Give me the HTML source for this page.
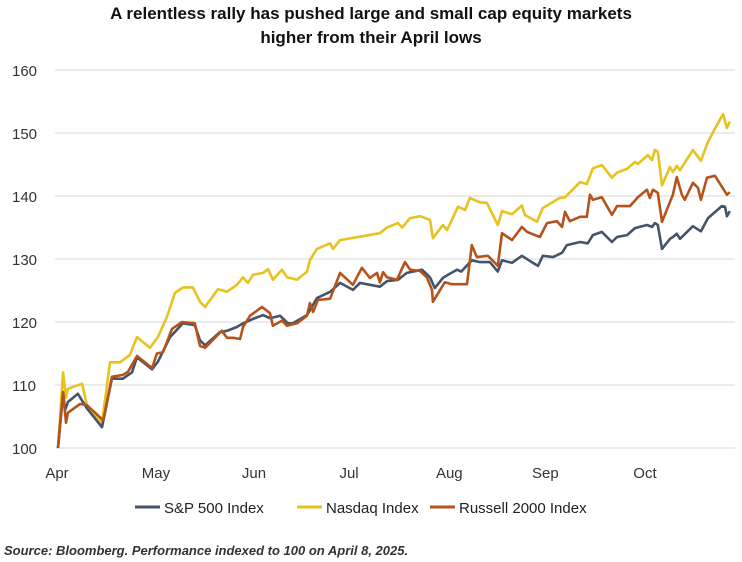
<!DOCTYPE html>
<html><head><meta charset="utf-8"><style>
body{margin:0;background:#fff;font-family:"Liberation Sans",sans-serif}
svg{display:block}
</style></head><body>
<svg id="c" width="742" height="562" xmlns="http://www.w3.org/2000/svg">
<text x="371" y="19" text-anchor="middle" font-size="17" font-weight="bold" fill="#111">A relentless rally has pushed large and small cap equity markets</text>
<text x="371" y="43" text-anchor="middle" font-size="17" font-weight="bold" fill="#111">higher from their April lows</text>
<g id="grid"></g><g id="xt"></g><g id="series"></g>
<g>
<line x1="135" y1="507" x2="160" y2="507" stroke="#44546a" stroke-width="3"/>
<text x="164" y="513" font-size="15" fill="#222">S&amp;P 500 Index</text>
<line x1="297" y1="507" x2="322" y2="507" stroke="#e8c21f" stroke-width="3"/>
<text x="326" y="513" font-size="15" fill="#222">Nasdaq Index</text>
<line x1="430" y1="507" x2="455" y2="507" stroke="#b5531c" stroke-width="3"/>
<text x="459" y="513" font-size="15" fill="#222">Russell 2000 Index</text>
</g>
<text x="4" y="555" font-size="13" font-weight="bold" font-style="italic" fill="#333">Source: Bloomberg. Performance indexed to 100 on April 8, 2025.</text>
</svg>
<script>
const yTicks=[100,110,120,130,140,150,160];
const monthLabels=["Apr","May","Jun","Jul","Aug","Sep","Oct"];
const monthDays=[0,30.8,61.3,90.9,122.1,152,183];
const nasdaqDays=[0.3,1.9,2.8,3.4,7.8,9.3,14,16.5,19.6,22.7,24.9,28.9,31.4,34.2,36.7,39.2,42.3,44.5,46.1,50.1,52.9,56,57.9,59.4,61,64.1,65.7,67.2,70,71.6,74.7,77.8,78.7,80.9,85,85.9,88.1,100.5,102.7,106.1,107.4,109.9,113,116.1,117,120.1,121.4,124.8,127,128.5,131.6,133.8,137.2,138.5,141.6,144.7,145.6,149.4,151.2,156.5,158.1,162.8,164.9,166.8,169.6,172.7,174.3,177.4,179.9,180.8,183.9,185.2,186.1,187,188.3,190.8,191.7,192.9,193.9,197.9,200.4,202.6,205.4,207.3,208.5,209.4];
const nasdaqVals=[100,112,108,109.4,110.2,106.8,104,113.6,113.6,114.8,117.6,115.9,117.6,120.8,124.6,125.5,125.5,123.2,122.4,125.2,124.8,125.9,127.1,126.2,127.5,127.8,128.4,126.7,128.3,127.1,126.7,128,129.8,131.6,132.5,131.6,133,134.1,135,135.7,135,136.5,136.8,136.2,133.3,135.4,134.6,138.3,137.8,139.7,139,138.9,135.4,137.6,137.1,138.5,137,135.9,138.1,139.7,139.8,142.2,141.9,144.4,144.9,142.9,143.7,144.3,145.4,145.1,146.5,145.7,147.3,147,141.7,144.6,143.8,144.8,144.1,147.3,145.6,148.6,151.3,153,150.8,151.8];
const spDays=[0.3,1.9,2.5,3.4,6.5,9.3,14,17.1,20.5,23.3,24.9,29.6,31.4,35.2,39.2,42.9,44.5,46.1,50.7,52.9,56,57.9,61,64.1,66.3,69.4,71.9,73.4,77.8,80.9,85,88.1,92.1,94.3,97.4,100.5,102.7,106.1,108.9,113.6,116.1,117.6,120.1,121.7,124.5,125.8,129.1,131.6,134.7,137.2,138.5,141.6,144.7,148.1,149.7,151.2,154.4,157.2,158.7,162.8,165.2,166.8,169.6,172.7,174.3,177.4,179.9,183.6,185.2,186.1,187,188.3,190.8,191.7,192.9,193.9,197.9,200.4,202.6,206.9,207.9,208.5,209.4];
const spVals=[100,108.7,106,107.3,108.6,106.3,103.3,111,111,112,114.4,112.5,113.7,117.6,119.8,119.5,117.1,116.3,118.4,118.6,119.2,119.8,120.5,121.1,120.6,121,119.8,119.8,121.1,123.8,124.8,126.2,125.1,126.2,125.9,125.6,126.5,126.7,127.8,128.3,127.1,125.4,127,127.5,128.3,128,129.8,129.5,129.5,128,129.8,129.4,130.5,129.4,128.9,130.5,130.3,131,132.2,132.7,132.5,133.8,134.3,132.7,133.5,133.8,134.9,135.4,135.1,135.7,135.4,131.6,133.2,133.5,134,133.2,135.2,134.4,136.5,138.4,138.3,136.8,137.6];
const rutDays=[0.3,1.9,2.8,3.4,7.2,9.3,14.4,17.1,20.5,22.1,24.9,29.6,31.1,33,35.8,38.9,42.9,44.5,46.1,51.3,52.9,54.8,57,57.9,60.1,63.8,66.3,67.2,70,71.6,74.7,77.8,78.7,79.7,81.2,85,88.1,92.1,94.9,97.4,99.6,100.5,101.5,102.7,105.8,108.3,109.9,113,115.1,116.7,117,120.7,122.9,127.6,129.1,130.7,134.1,136.3,137.2,138.5,141.6,144.7,146.3,150.3,152.5,155.6,157.2,158.1,159.6,162.8,164.9,165.9,166.8,169.6,172.7,174.3,178.3,180.8,183.6,184.5,185.5,187,188.3,191.7,192.9,194.5,195.4,197.9,199.5,200.4,202.3,204.8,208.5,209.4];
const rutVals=[100,108.9,104,105.6,107,106.8,104.4,111.3,111.6,112.1,114.6,112.7,115,115.2,118.9,120,119.8,116.2,115.9,118.6,117.5,117.5,117.3,119.2,121,122.4,121.4,119.4,120.2,119.4,119.8,121,123,121.6,123.5,123.7,127.8,125.9,128.6,127,127.8,126.3,127.9,127.1,126.7,129.5,128.3,128.1,127.1,125.1,123.2,126.3,126,126,132.2,130.3,130.5,129.4,128.9,134.1,133,135.1,134.3,133.5,135.7,136,135.1,137.5,136,136.7,136.7,140.2,139.4,139.8,137,138.4,138.4,139.8,141,139.7,141,140.5,135.9,140.2,143,140.2,139.4,142.1,141.3,139.4,142.9,143.2,140.2,140.6];
const NS="http://www.w3.org/2000/svg";
const X0=57,PXD=3.213,Y0=448,PXU=6.3;
const xs=d=>X0+d*PXD, ys=v=>Y0-(v-100)*PXU;
const grid=document.getElementById('grid');
yTicks.forEach(t=>{
  const l=document.createElementNS(NS,'line');
  l.setAttribute('x1',55);l.setAttribute('x2',735);l.setAttribute('y1',ys(t));l.setAttribute('y2',ys(t));
  l.setAttribute('stroke','#d9d9d9');l.setAttribute('stroke-width','1');
  
  
  grid.appendChild(l);
  const tx=document.createElementNS(NS,'text');
  tx.setAttribute('x',12);tx.setAttribute('y',ys(t)+6);tx.setAttribute('font-size','15');tx.setAttribute('fill','#333');
  tx.textContent=t;
  
  
  grid.appendChild(tx);
});
const xt=document.getElementById('xt');
monthLabels.forEach((m,i)=>{
  const tx=document.createElementNS(NS,'text');
  tx.setAttribute('x',xs(monthDays[i]));tx.setAttribute('y',478);tx.setAttribute('font-size','15');tx.setAttribute('fill','#333');
  tx.setAttribute('text-anchor','middle');
  tx.textContent=m;
  
  
  xt.appendChild(tx);
});
const sg=document.getElementById('series');
[[nasdaqDays,nasdaqVals,'#e8c21f','nasdaq-line'],[spDays,spVals,'#44546a','sp500-line'],[rutDays,rutVals,'#b5531c','russell-2000-line']].forEach(([d,v,c,n])=>{
  const p=document.createElementNS(NS,'path');
  p.setAttribute('d',d.map((dd,i)=>(i?'L':'M')+xs(dd).toFixed(1)+' '+ys(v[i]).toFixed(1)).join(' '));
  p.setAttribute('fill','none');p.setAttribute('stroke',c);p.setAttribute('stroke-width','2.6');p.setAttribute('stroke-linejoin','round');
  
  
  sg.appendChild(p);
});
</script>
</body></html>
